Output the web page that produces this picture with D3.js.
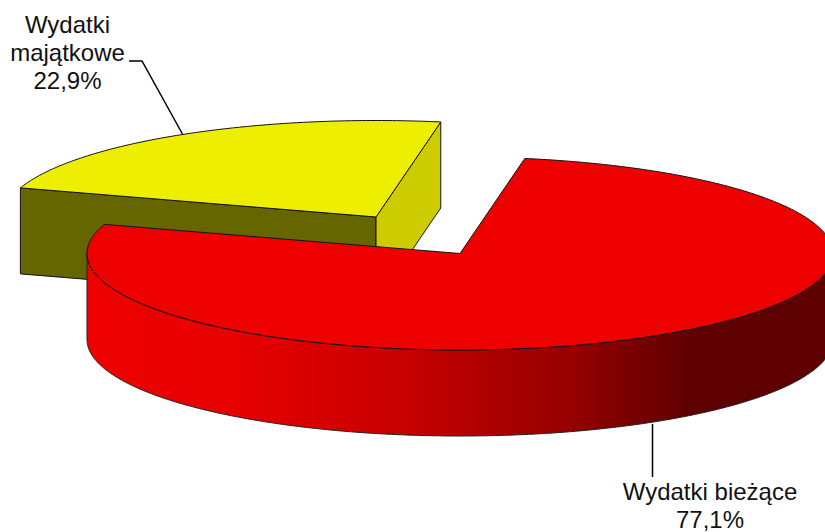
<!DOCTYPE html>
<html>
<head>
<meta charset="utf-8">
<script src="https://d3js.org/d3.v7.min.js"></script>
<style>
  html, body { margin: 0; padding: 0; background: #fff; overflow: hidden; }
  text { font-family: "Liberation Sans", Arial, sans-serif; font-size: 24px; fill: #111; text-anchor: middle; }
</style>
</head>
<body>
<div id="chart"></div>
<script>
const categories = ["Wydatki bieżące", "Wydatki majątkowe"];
const values = [77.1, 22.9];
const valueLabels = ["77,1%", "22,9%"];

const width = 825;
const height = 532;
const rx = 373;
const ry = 96.5;
const depth = 86;
const startAngle = 10 * Math.PI / 180;
const centers = [{ x: 460, y: 253.5 }, { x: 376, y: 217 }];

const svg = d3.select("#chart").append("svg")
    .attr("width", width)
    .attr("height", height);

const pie = d3.pie().sort(null)
    .startAngle(startAngle)
    .endAngle(startAngle + 2 * Math.PI);
const slices = pie(values);

const line = d3.line();

// point on the tilted circle, angle clockwise from the top like d3.pie
function rim(c, angle, drop = 0) {
    return [c.x + rx * Math.sin(angle), c.y - ry * Math.cos(angle) + drop];
}

function arcPoints(c, a0, a1, drop = 0) {
    const n = Math.ceil(Math.abs(a1 - a0) / 0.01);
    return d3.range(n + 1).map(i => rim(c, a0 + (a1 - a0) * i / n, drop));
}

const defs = svg.append("defs");
const gradient = defs.append("linearGradient")
    .attr("id", "redWall")
    .attr("gradientUnits", "userSpaceOnUse")
    .attr("x1", 87).attr("x2", 825)
    .attr("y1", 0).attr("y2", 0);
[[87, "#ee0000"], [230, "#e80000"], [400, "#c80000"], [560, "#9a0000"], [690, "#5f0000"], [825, "#5f0000"]]
    .forEach(s => gradient.append("stop")
        .attr("offset", (s[0] - 87) / (825 - 87))
        .attr("stop-color", s[1]));

function face(points, fill, stroke = "#111") {
    svg.append("path")
        .attr("d", line(points) + "Z")
        .attr("fill", fill)
        .attr("stroke", stroke)
        .attr("stroke-width", 1)
        .attr("stroke-linejoin", "round");
}

// yellow slice: two cut faces, then the top
const yc = centers[1];
const ys = slices[1];
const yLeft = rim(yc, ys.startAngle);
const yRight = rim(yc, ys.endAngle);
face([[yc.x, yc.y], yLeft, [yLeft[0], yLeft[1] + depth], [yc.x, yc.y + depth]], "#666600");
face([[yc.x, yc.y], yRight, [yRight[0], yRight[1] + depth], [yc.x, yc.y + depth]], "#cccc00");
face([[yc.x, yc.y], ...arcPoints(yc, ys.startAngle, ys.endAngle)], "#eeee00");

// red slice: outer wall on the front half, then the top
const rc = centers[0];
const rs = slices[0];
const front0 = Math.PI / 2;
const front1 = 3 * Math.PI / 2;
face([...arcPoints(rc, front0, front1), ...arcPoints(rc, front1, front0, depth)], "url(#redWall)", "#222");
face([[rc.x, rc.y], ...arcPoints(rc, rs.startAngle, rs.endAngle)], "#ee0000");

// leader lines
const leaders = [
    [[652.5, 424], [652.5, 477]],
    [[129, 61], [142, 61], [183, 135]]
];
leaders.forEach(p => svg.append("path")
    .attr("d", line(p))
    .attr("fill", "none")
    .attr("stroke", "#000")
    .attr("stroke-width", 1.5));

// labels
function label(x, y, lines) {
    lines.forEach((t, i) => svg.append("text")
        .attr("x", x)
        .attr("y", y + i * 28)
        .text(t));
}
label(710, 500, [categories[0], valueLabels[0]]);
label(67.5, 33, [...categories[1].split(" "), valueLabels[1]]);
</script>
</body>
</html>
